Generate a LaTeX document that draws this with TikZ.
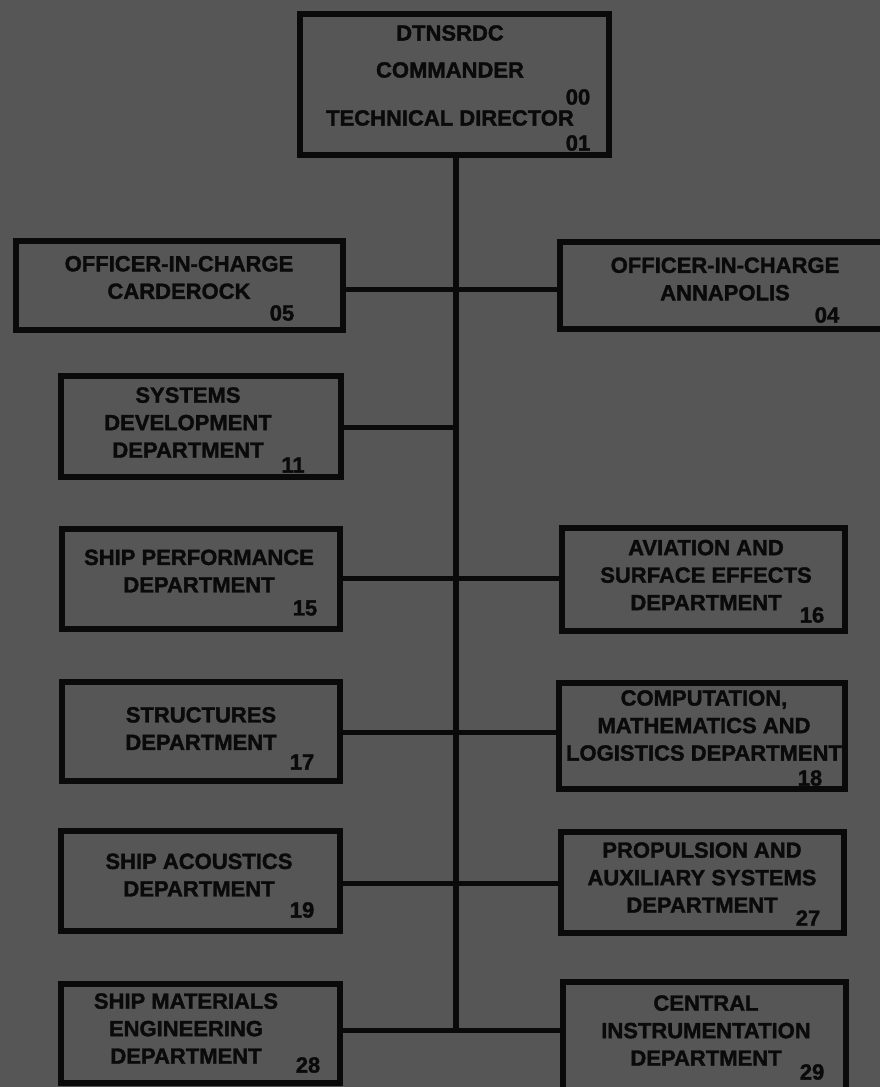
\documentclass[tikz,border=0pt]{standalone}
\usepackage{fontspec}
\setmainfont{Liberation Sans}[BoldFeatures={FakeBold=1.6}]
\definecolor{bg}{RGB}{86,86,86}
\definecolor{ink}{RGB}{10,10,10}
\tikzset{
  box/.style={draw=ink, line width=6.5pt, inner sep=0pt},
  lbl/.style={text=ink, font=\bfseries\fontsize{22}{27.5}\selectfont, align=center, inner sep=0pt},
  num/.style={text=ink, font=\bfseries\fontsize{22}{22}\selectfont, inner sep=0pt},
  wire/.style={draw=ink, line width=5pt},
}
\begin{document}
\begin{tikzpicture}[x=1pt,y=-1pt]
\useasboundingbox (0,0) rectangle (880,1087);
\clip (0,0) rectangle (880,1087);
\fill[bg] (0,0) rectangle (880,1087);

% boxes
\node[box, minimum width=309pt, minimum height=141pt] (top) at (454.5,84.5) {};
\node[box, minimum width=327pt, minimum height=89pt] (carderock) at (179.5,285.5) {};
\node[box, minimum width=325pt, minimum height=87pt] (annapolis) at (722.5,285.5) {};
\node[box, minimum width=280pt, minimum height=101pt] (systems) at (201,426.5) {};
\node[box, minimum width=278pt, minimum height=100pt] (shipperf) at (201,579) {};
\node[box, minimum width=283pt, minimum height=103pt] (aviation) at (703.5,579.5) {};
\node[box, minimum width=278pt, minimum height=99pt] (structures) at (201,731.5) {};
\node[box, minimum width=286pt, minimum height=106pt] (computation) at (702,736) {};
\node[box, minimum width=279pt, minimum height=100pt] (acoustics) at (200.5,881) {};
\node[box, minimum width=283pt, minimum height=101pt] (propulsion) at (702.5,882.5) {};
\node[box, minimum width=279pt, minimum height=99pt] (materials) at (200.5,1033.5) {};
\node[box, minimum width=283pt, minimum height=110pt] (central) at (704.5,1037) {};

% trunk junctions
\coordinate (j1) at (456,289);
\coordinate (j2) at (456,427);
\coordinate (j3) at (456,578);
\coordinate (j4) at (456,732);
\coordinate (j5) at (456,883);
\coordinate (j6) at (456,1030);

\draw[wire, line width=6pt] (top.south -| j1) -- (j6);
\draw[wire] (carderock.east |- j1) -- (annapolis.west |- j1);
\draw[wire] (systems.east |- j2) -- (j2);
\draw[wire] (shipperf.east |- j3) -- (aviation.west |- j3);
\draw[wire] (structures.east |- j4) -- (computation.west |- j4);
\draw[wire] (acoustics.east |- j5) -- (propulsion.west |- j5);
\draw[wire] (materials.east |- j6) -- (central.west |- j6);

% texts
\node[lbl] (t1) at (450,33) {DTNSRDC};
\node[lbl] (t2) at (450,70) {COMMANDER};
\node[lbl] (t3) at (450,118) {TECHNICAL DIRECTOR};
\node[num] (n00) at (578,97) {00};
\node[num] (n01) at (578,143) {01};

\node[lbl] (tcard) at (179,277.5) {OFFICER-IN-CHARGE\\CARDEROCK};
\node[num] (n05) at (282,313) {05};
\node[lbl] (tanna) at (725,279) {OFFICER-IN-CHARGE\\ANNAPOLIS};
\node[num] (n04) at (827,315) {04};

\node[lbl] (tsys) at (188,422.5) {SYSTEMS\\DEVELOPMENT\\DEPARTMENT};
\node[num] (n11) at (293,465) {11};
\node[lbl] (tperf) at (199,571) {SHIP PERFORMANCE\\DEPARTMENT};
\node[num] (n15) at (305,608) {15};
\node[lbl] (tavi) at (706,575) {AVIATION AND\\SURFACE EFFECTS\\DEPARTMENT};
\node[num] (n16) at (812,615) {16};
\node[lbl] (tstr) at (201,728.5) {STRUCTURES\\DEPARTMENT};
\node[num] (n17) at (302,762) {17};
\node[lbl] (tcomp) at (704,725.5) {COMPUTATION,\\MATHEMATICS AND\\LOGISTICS DEPARTMENT};
\node[num] (n18) at (810,778) {18};
\node[lbl] (tacou) at (199,875) {SHIP ACOUSTICS\\DEPARTMENT};
\node[num] (n19) at (302,910) {19};
\node[lbl] (tprop) at (702,877.5) {PROPULSION AND\\AUXILIARY SYSTEMS\\DEPARTMENT};
\node[num] (n27) at (808,918) {27};
\node[lbl] (tmat) at (186,1028.5) {SHIP MATERIALS\\ENGINEERING\\DEPARTMENT};
\node[num] (n28) at (308,1065) {28};
\node[lbl] (tcent) at (706,1030.5) {CENTRAL\\INSTRUMENTATION\\DEPARTMENT};
\node[num] (n29) at (812,1072) {29};
\end{tikzpicture}
\end{document}
